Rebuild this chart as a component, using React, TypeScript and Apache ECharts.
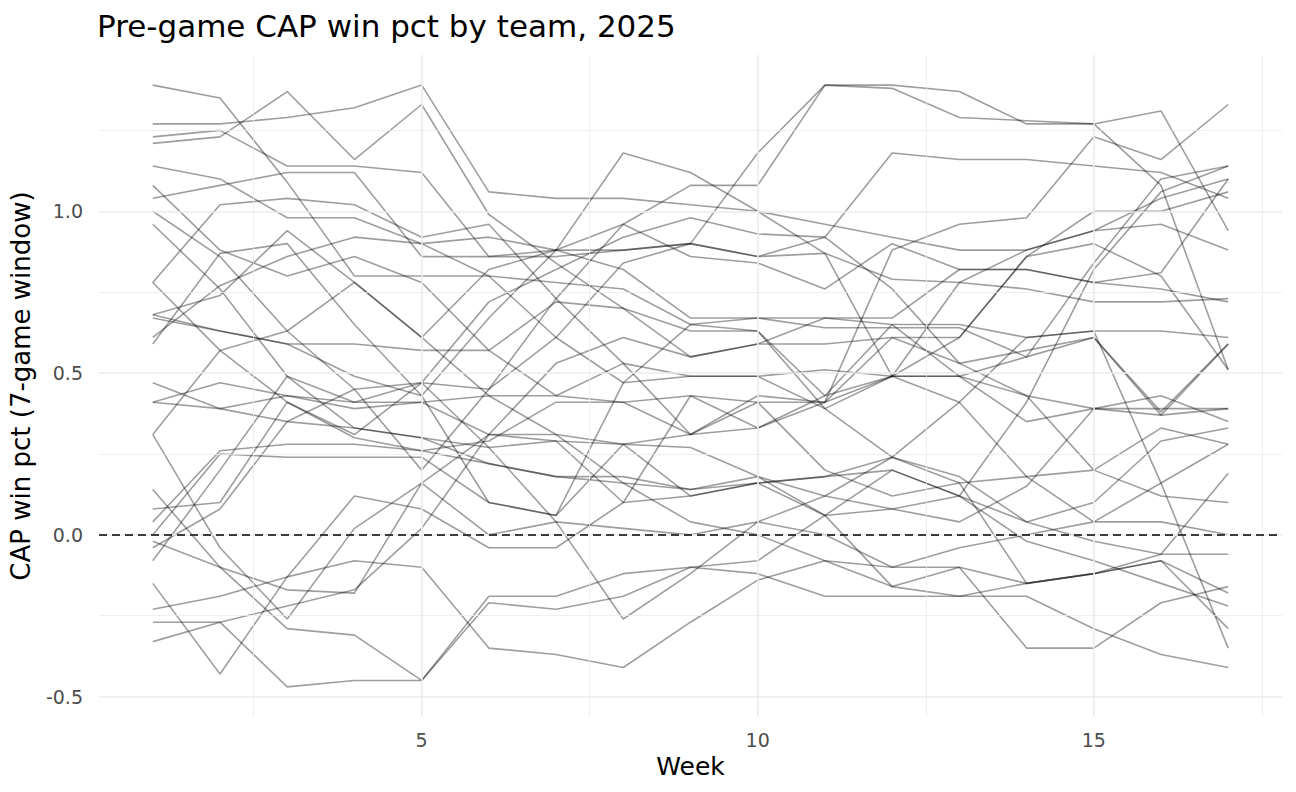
import React, { useEffect, useRef } from "react";
import * as echarts from "echarts";

const WEEKS = [1, 2, 3, 4, 5, 6, 7, 8, 9, 10, 11, 12, 13, 14, 15, 16, 17];

const T01 = [1.39, 1.35, 1.09, 0.8, 0.8, 0.8, 0.78, 0.76, 0.65, 0.67, 0.64, 0.64, 0.64, 0.55, 0.61, 0.37, 0.59];
const T02 = [1.27, 1.27, 1.29, 1.32, 1.39, 1.06, 1.04, 1.04, 1.02, 1.0, 0.96, 0.92, 0.88, 0.88, 0.94, 0.96, 0.88];
const T03 = [1.23, 1.25, 1.14, 1.14, 1.12, 0.86, 0.86, 0.88, 0.9, 0.86, 0.87, 0.79, 0.78, 0.76, 0.72, 0.72, 0.73];
const T04 = [1.21, 1.23, 1.37, 1.16, 1.33, 0.99, 0.84, 0.7, 0.55, 0.59, 0.59, 0.61, 0.61, 0.86, 0.9, 0.8, 0.51];
const T05 = [1.14, 1.1, 0.98, 0.98, 0.9, 0.92, 0.88, 0.82, 0.67, 0.67, 0.67, 0.65, 0.65, 0.61, 0.63, 0.63, 0.61];
const T06 = [1.08, 0.88, 0.8, 0.86, 0.78, 0.57, 0.43, 0.41, 0.43, 0.41, 0.2, 0.12, 0.16, -0.15, -0.12, -0.06, 0.19];
const T07 = [1.04, 1.08, 1.12, 1.12, 0.86, 0.86, 0.88, 0.88, 0.9, 0.86, 0.92, 0.76, 0.53, 0.43, 0.39, 0.39, 0.39];
const T08 = [1.0, 0.86, 0.63, 0.45, 0.47, 0.72, 0.82, 0.92, 0.98, 0.93, 0.92, 1.18, 1.16, 1.16, 1.14, 1.12, 1.04];
const T09 = [0.96, 0.76, 0.49, 0.33, 0.3, 0.22, 0.18, 0.16, 0.14, 0.18, 0.06, -0.16, -0.19, -0.19, -0.29, -0.37, -0.41];
const T10 = [0.78, 1.02, 1.04, 1.02, 0.92, 0.96, 0.73, 0.53, 0.31, 0.41, 0.41, 0.88, 0.96, 0.98, 1.23, 1.16, 1.33];
const T11 = [0.78, 0.57, 0.41, 0.31, 0.47, 0.45, 0.61, 0.84, 0.9, 1.18, 1.39, 1.39, 1.37, 1.27, 1.27, 1.31, 0.94];
const T12 = [0.68, 0.63, 0.59, 0.59, 0.57, 0.57, 0.72, 0.7, 0.63, 0.63, 0.43, 0.65, 0.49, 0.55, 0.84, 1.1, 1.14];
const T13 = [0.68, 0.74, 0.94, 0.78, 0.61, 0.82, 0.88, 0.96, 0.86, 0.84, 0.76, 0.9, 0.82, 0.82, 0.78, 0.76, 0.72];
const T14 = [0.61, 0.77, 0.86, 0.92, 0.9, 0.8, 0.61, 0.47, 0.49, 0.49, 0.39, 0.24, 0.18, 0.04, 0.1, 0.29, 0.33];
const T15 = [0.59, 0.87, 0.9, 0.65, 0.43, 0.67, 0.88, 1.18, 1.12, 1.0, 0.87, 0.49, 0.41, 0.18, 0.04, 0.16, 0.28];
const T16 = [0.47, 0.39, 0.43, 0.39, 0.41, 0.31, 0.29, 0.28, 0.27, 0.18, 0.12, 0.08, 0.04, 0.15, 0.39, 0.43, 0.35];
const T17 = [0.41, 0.39, 0.35, 0.33, 0.3, 0.27, 0.29, 0.1, 0.12, 0.16, 0.18, 0.2, 0.12, -0.02, -0.08, -0.15, -0.22];
const T18 = [0.31, 0.57, 0.63, 0.78, 0.61, 0.43, 0.31, 0.28, 0.12, 0.16, 0.06, 0.2, 0.12, 0.04, -0.02, -0.06, -0.06];
const T19 = [0.31, -0.04, -0.26, 0.02, 0.16, 0.31, 0.31, 0.16, 0.04, 0.0, -0.08, -0.16, -0.1, -0.15, -0.12, -0.08, -0.18];
const T20 = [0.14, -0.1, -0.17, -0.18, 0.16, 0.0, 0.04, 0.02, 0.0, 0.04, 0.0, -0.1, -0.04, 0.0, 0.04, 0.04, 0.0];
const T21 = [0.08, 0.1, 0.41, 0.3, 0.26, 0.22, 0.18, 0.18, 0.14, 0.16, 0.18, 0.24, 0.16, 0.18, 0.2, 0.12, 0.1];
const T22 = [0.04, 0.26, 0.28, 0.28, 0.26, 0.29, 0.41, 0.41, 0.31, 0.43, 0.41, 0.49, 0.61, 0.86, 1.0, 1.0, 1.06];
const T23 = [0.0, 0.25, 0.24, 0.24, 0.24, 0.1, 0.06, 0.47, 0.65, 0.63, 0.39, 0.49, 0.78, 0.88, 0.94, 1.04, 1.1];
const T24 = [-0.02, -0.1, -0.29, -0.31, -0.45, -0.21, -0.23, -0.19, -0.1, -0.08, 0.06, 0.08, 0.12, 0.41, 0.82, 1.06, 1.14];
const T25 = [-0.04, 0.08, 0.35, 0.45, 0.2, 0.45, 0.73, 0.96, 1.08, 1.08, 1.39, 1.38, 1.29, 1.28, 1.27, 1.08, 0.51];
const T26 = [-0.08, 0.2, 0.49, 0.41, 0.47, 0.27, 0.04, -0.26, -0.12, 0.04, 0.12, 0.24, 0.41, 0.61, 0.63, 0.16, -0.35];
const T27 = [-0.15, -0.43, -0.13, 0.12, 0.08, -0.04, -0.04, 0.1, 0.43, 0.33, 0.41, 0.61, 0.53, 0.57, 0.61, 0.38, 0.59];
const T28 = [-0.23, -0.19, -0.13, -0.08, -0.1, -0.35, -0.37, -0.41, -0.27, -0.14, -0.08, -0.1, -0.1, -0.35, -0.35, -0.21, -0.16];
const T29 = [-0.27, -0.27, -0.47, -0.45, -0.45, -0.19, -0.19, -0.12, -0.1, -0.12, -0.19, -0.19, -0.19, -0.15, -0.12, -0.08, -0.29];
const T30 = [-0.33, -0.27, -0.22, -0.17, 0.02, 0.31, 0.53, 0.61, 0.55, 0.59, 0.67, 0.67, 0.82, 0.82, 0.78, 0.81, 1.1];
const T31 = [0.67, 0.63, 0.59, 0.49, 0.43, 0.1, 0.06, 0.28, 0.31, 0.33, 0.43, 0.49, 0.49, 0.43, 0.2, 0.33, 0.28];
const T32 = [0.41, 0.47, 0.43, 0.41, 0.41, 0.43, 0.43, 0.53, 0.49, 0.49, 0.51, 0.49, 0.49, 0.35, 0.39, 0.37, 0.39];

const TEAMS = [T01, T02, T03, T04, T05, T06, T07, T08, T09, T10, T11, T12, T13, T14, T15, T16,
  T17, T18, T19, T20, T21, T22, T23, T24, T25, T26, T27, T28, T29, T30, T31, T32];

const Y_MAJOR = [-0.5, 0, 0.5, 1.0];
const Y_MAJOR_LABELS = ["-0.5", "0.0", "0.5", "1.0"];
const Y_MINOR = [-0.25, 0.25, 0.75, 1.25];
const X_MAJOR = [5, 10, 15];
const X_MAJOR_LABELS = ["5", "10", "15"];
const X_MINOR = [2.5, 7.5, 12.5, 17.5];
const X_RANGE = [0.2, 17.8];
const Y_RANGE = [-0.563, 1.483];

const FONT = "DejaVu Sans";

export default function App() {
  const ref = useRef<HTMLDivElement>(null);
  useEffect(() => {
    document.body.style.margin = "0";
    if (!ref.current) return;
    const chart = echarts.init(ref.current, null, { renderer: "svg" });
    const gridMarks: any[] = [];
    Y_MINOR.forEach((v) =>
      gridMarks.push({ yAxis: v, lineStyle: { color: "#ebebeb", width: 0.8, type: "solid" }, label: { show: false } })
    );
    X_MINOR.forEach((v) =>
      gridMarks.push({ xAxis: v, lineStyle: { color: "#ebebeb", width: 0.8, type: "solid" }, label: { show: false } })
    );
    Y_MAJOR.forEach((v, i) =>
      gridMarks.push({
        yAxis: v,
        lineStyle: { color: "#ebebeb", width: 1.6, type: "solid" },
        label: {
          show: true, position: "start", formatter: Y_MAJOR_LABELS[i], color: "#4d4d4d",
          fontSize: 19, fontFamily: FONT, distance: 16,
        },
      })
    );
    X_MAJOR.forEach((v, i) =>
      gridMarks.push({
        xAxis: v,
        lineStyle: { color: "#ebebeb", width: 1.6, type: "solid" },
        label: {
          show: true, position: "start", formatter: X_MAJOR_LABELS[i], color: "#4d4d4d",
          fontSize: 19, fontFamily: FONT, distance: 13,
        },
      })
    );

    const teamSeries = TEAMS.map((vals, i) => ({
      type: "line",
      name: "team" + (i + 1),
      data: WEEKS.map((w, j) => [w, vals[j]]),
      showSymbol: false,
      symbol: "none",
      silent: true,
      z: 3,
      lineStyle: { color: "rgba(0,0,0,0.38)", width: 1.6 },
    }));

    chart.setOption({
      animation: false,
      textStyle: { fontFamily: FONT },
      title: {
        text: "Pre-game CAP win pct by team, 2025",
        left: 92,
        top: 5,
        textStyle: { fontSize: 31, fontWeight: "normal", color: "#000", fontFamily: FONT },
      },
      grid: { left: 92.5, right: 14, top: 55, bottom: 75, containLabel: false },
      xAxis: {
        type: "value", min: X_RANGE[0], max: X_RANGE[1],
        axisLine: { show: false }, axisTick: { show: false }, axisLabel: { show: false }, splitLine: { show: false },
        name: "Week", nameLocation: "middle", nameGap: 37,
        nameTextStyle: { fontSize: 25, color: "#000", fontFamily: FONT },
      },
      yAxis: {
        type: "value", min: Y_RANGE[0], max: Y_RANGE[1],
        axisLine: { show: false }, axisTick: { show: false }, axisLabel: { show: false }, splitLine: { show: false },
        name: "CAP win pct (7-game window)", nameLocation: "middle", nameGap: 65, nameRotate: 90,
        nameTextStyle: { fontSize: 26, color: "#000", fontFamily: FONT },
      },
      series: [
        {
          type: "line", data: [], silent: true, z: 1,
          markLine: { symbol: "none", silent: true, animation: false, data: gridMarks },
        },
        ...teamSeries,
        {
          type: "line", data: [], silent: true, z: 5,
          markLine: {
            symbol: "none", silent: true, animation: false,
            data: [{ yAxis: 0, lineStyle: { color: "#000", width: 1.5, type: [8, 5] }, label: { show: false } }],
          },
        },
      ],
    });
    return () => chart.dispose();
  }, []);
  return <div ref={ref} style={{ width: 1296, height: 792 }} />;
}
